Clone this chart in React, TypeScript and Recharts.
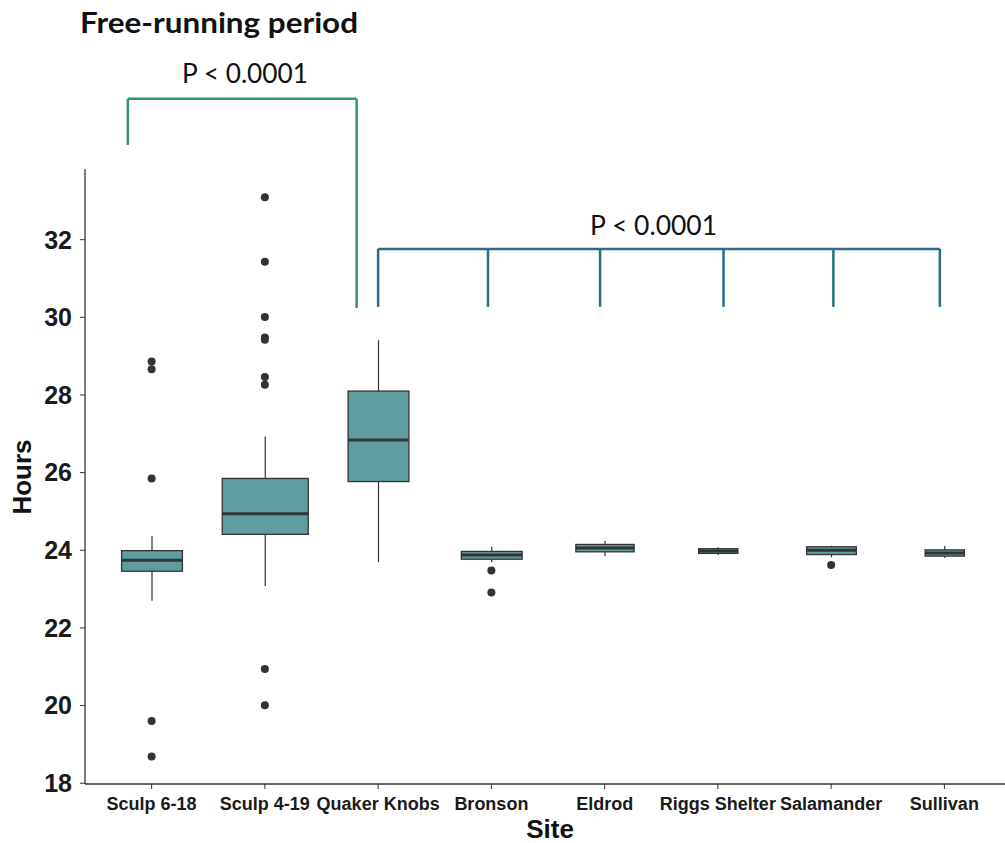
import React from 'react';
import { Bar, ComposedChart, ReferenceLine, Scatter, XAxis, YAxis } from 'recharts';

// values (hours)
const sites = ['Sculp 6-18', 'Sculp 4-19', 'Quaker Knobs', 'Bronson', 'Eldrod', 'Riggs Shelter', 'Salamander', 'Sullivan'];
const sampleSize = [12, 24, 12, 12, 11, 5, 8, 5];
const whiskerLow = [22.7, 23.08, 23.69, 23.69, 23.85, 23.88, 23.82, 23.8];
const q1 = [23.46, 24.41, 25.77, 23.77, 23.96, 23.92, 23.89, 23.85];
const median = [23.74, 24.94, 26.84, 23.88, 24.06, 23.98, 24.0, 23.93];
const q3 = [23.99, 25.85, 28.1, 23.97, 24.15, 24.04, 24.09, 24.01];
const whiskerHigh = [24.37, 26.93, 29.41, 24.09, 24.24, 24.08, 24.12, 24.11];
const outliers = [
  [28.86, 28.66, 25.85, 19.6, 18.69],
  [33.09, 31.43, 30.01, 29.48, 29.42, 28.46, 28.26, 20.94, 20.01],
  [],
  [23.48, 22.91],
  [],
  [],
  [23.62],
  [],
];
const yTicks = [18, 20, 22, 24, 26, 28, 30, 32];

// bracket annotations, in site-position units / hours
const bracketA = { left: 0.79, right: 2.81, top: 35.63, leftEnd: 34.44, rightEnd: 30.24 };
const bracketB = { legs: [3, 3.97, 4.96, 6.05, 7.02, 7.96], top: 31.76, end: 30.27 };

const boxData = sites.map((site, i) => ({
  site,
  n: sampleSize[i],
  lo: whiskerLow[i],
  q1: q1[i],
  med: median[i],
  q3: q3[i],
  hi: whiskerHigh[i],
}));

const outlierPoints = outliers.flatMap((vals, i) => vals.map((y) => ({ x: i + 1, y })));
const maxN = Math.max(...sampleSize);

const INK = '#333333';
const FILL = 'cadetblue';
const XPAD = { left: 10, right: 4 };

function BoxShape(props: any) {
  const { x, y, width, height, payload } = props;
  const top = Math.min(y, y + height);
  const bottom = Math.max(y, y + height);
  const { lo, hi } = payload;
  const px = (v: number) => bottom - ((v - lo) / (hi - lo)) * (bottom - top);
  const cx = x + width / 2;
  const w = width * Math.sqrt(payload.n / maxN);
  return (
    <g>
      <line x1={cx} x2={cx} y1={px(hi)} y2={px(payload.q3)} stroke={INK} strokeWidth={1.2} />
      <line x1={cx} x2={cx} y1={px(payload.q1)} y2={px(lo)} stroke={INK} strokeWidth={1.2} />
      <rect
        x={cx - w / 2}
        y={px(payload.q3)}
        width={w}
        height={px(payload.q1) - px(payload.q3)}
        fill={FILL}
        stroke={INK}
        strokeWidth={1.3}
      />
      <line x1={cx - w / 2} x2={cx + w / 2} y1={px(payload.med)} y2={px(payload.med)} stroke={INK} strokeWidth={3} />
    </g>
  );
}

const Dot = (props: any) => <circle cx={props.cx} cy={props.cy} r={4} fill={INK} />;

export default function App() {
  const bracketColorA = '#2f9479';
  const bracketColorB = '#2b6d89';
  const seg = (x1: number, y1: number, x2: number, y2: number, color: string, key: string) => (
    <ReferenceLine
      key={key}
      xAxisId="pos"
      segment={[{ x: x1, y: y1 }, { x: x2, y: y2 }]}
      stroke={color}
      strokeWidth={2.5}
      ifOverflow="visible"
    />
  );

  return (
    <div style={{ position: 'absolute', left: 0, top: 0, width: 1005, height: 843, background: '#fff' }}>
      <ComposedChart width={1005} height={843} data={boxData} margin={{ top: 169, right: 0, bottom: 0, left: 0 }}>
        <XAxis
          dataKey="site"
          type="category"
          padding={XPAD}
          height={59}
          interval={0}
          tickSize={5}
          tickMargin={8}
          axisLine={{ stroke: INK, strokeWidth: 1.3 }}
          tickLine={{ stroke: INK }}
          tick={{ fill: '#1a1a1a', fontSize: 18, fontWeight: 'bold', fontFamily: 'Liberation Sans' }}
        />
        <XAxis xAxisId="pos" type="number" dataKey="x" domain={[0.5, 8.5]} padding={XPAD} allowDataOverflow hide />
        <YAxis
          type="number"
          domain={[17.98, 33.82]}
          ticks={yTicks}
          allowDataOverflow
          width={85}
          tickSize={5}
          tickMargin={8}
          axisLine={{ stroke: INK, strokeWidth: 1.3 }}
          tickLine={{ stroke: INK }}
          tick={{ fill: '#1a1a1a', fontSize: 25, fontWeight: 'bold', fontFamily: 'Liberation Sans' }}
        />
        <Bar dataKey={(d: any) => [d.lo, d.hi]} barSize={86} shape={BoxShape} isAnimationActive={false} />
        <Scatter xAxisId="pos" data={outlierPoints} dataKey="y" shape={Dot} isAnimationActive={false} />

        {seg(bracketA.left, bracketA.leftEnd, bracketA.left, bracketA.top, bracketColorA, 'a1')}
        {seg(bracketA.left, bracketA.top, bracketA.right, bracketA.top, bracketColorA, 'a2')}
        {seg(bracketA.right, bracketA.top, bracketA.right, bracketA.rightEnd, bracketColorA, 'a3')}

        {seg(bracketB.legs[0], bracketB.top, bracketB.legs[bracketB.legs.length - 1], bracketB.top, bracketColorB, 'b0')}
        {bracketB.legs.map((lx, i) => seg(lx, bracketB.top, lx, bracketB.end, bracketColorB, 'b' + (i + 1)))}
      </ComposedChart>

      <svg width={1005} height={843} style={{ position: 'absolute', left: 0, top: 0, pointerEvents: 'none' }}>
        <text x={80} y={33} fontFamily="Lato" fontWeight="bold" fontSize={28} textLength={278} lengthAdjust="spacingAndGlyphs" fill="#111">
          Free-running period
        </text>
        <text x={182} y={83} fontFamily="Lato" fontSize={26} textLength={126} lengthAdjust="spacingAndGlyphs" fill="#111">
          P &lt; 0.0001
        </text>
        <text x={590} y={235} fontFamily="Lato" fontSize={26} textLength={127} lengthAdjust="spacingAndGlyphs" fill="#111">
          P &lt; 0.0001
        </text>
        <text
          x={31}
          y={477}
          transform="rotate(-90 31 477)"
          textAnchor="middle"
          fontFamily="Liberation Sans"
          fontWeight="bold"
          fontSize={26}
          fill="#111"
        >
          Hours
        </text>
        <text x={550} y={838} textAnchor="middle" fontFamily="Liberation Sans" fontWeight="bold" fontSize={26} fill="#111">
          Site
        </text>
      </svg>
    </div>
  );
}
